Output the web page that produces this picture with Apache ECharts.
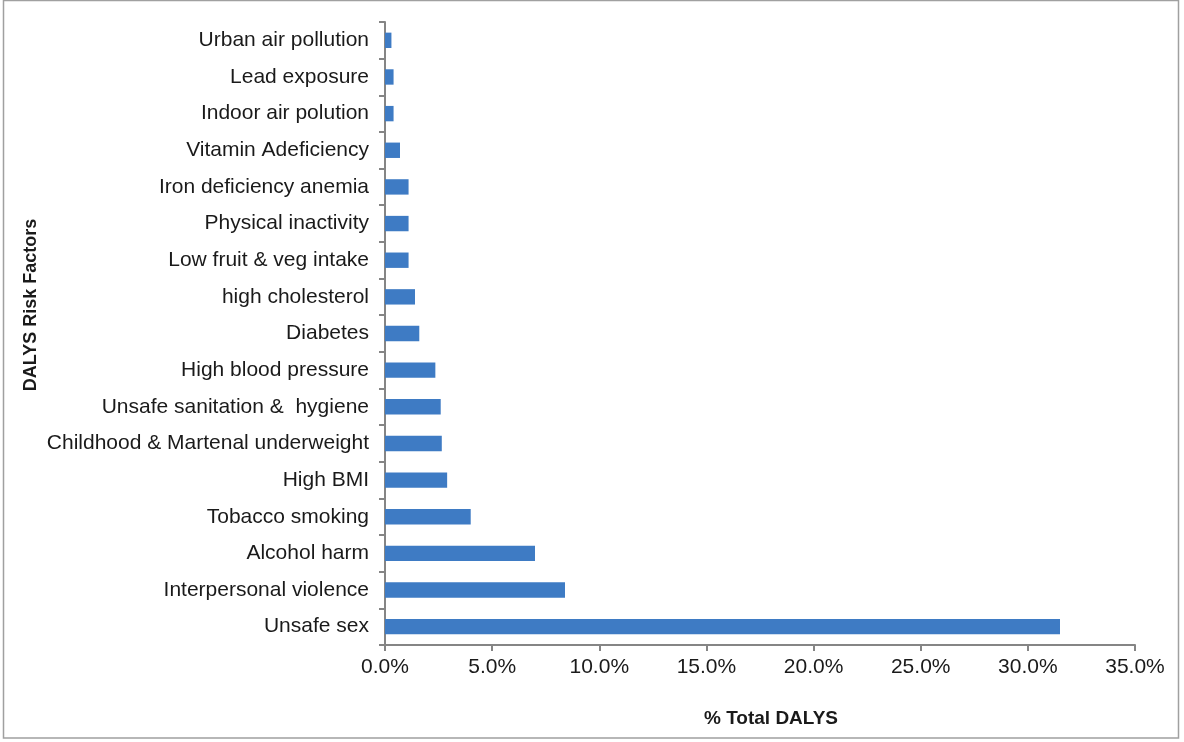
<!DOCTYPE html>
<html><head><meta charset="utf-8">
<script src="https://cdn.jsdelivr.net/npm/echarts@6/dist/echarts.min.js"></script>
<style>html,body{margin:0;padding:0;background:#fff}#c{width:1184px;height:742px}</style>
</head><body><div id="c"></div>
<script>
const categories = ["Unsafe sex","Interpersonal violence","Alcohol harm","Tobacco smoking","High BMI","Childhood & Martenal underweight","Unsafe sanitation &  hygiene","High blood pressure","Diabetes","high cholesterol","Low fruit & veg intake","Physical inactivity","Iron deficiency anemia","Vitamin Adeficiency","Indoor air polution","Lead exposure","Urban air pollution"];
const values = [31.5, 8.4, 7.0, 4.0, 2.9, 2.65, 2.6, 2.35, 1.6, 1.4, 1.1, 1.1, 1.1, 0.7, 0.4, 0.4, 0.3];
const xTicks = [0, 5, 10, 15, 20, 25, 30, 35];

const chart = echarts.init(document.getElementById('c'));
const font = '"Liberation Sans", Arial, sans-serif';
chart.setOption({
  animation: false,
  grid: {left: 385, right: 49, top: 22, bottom: 97, containLabel: false},
  xAxis: {
    type: 'value', min: xTicks[0], max: xTicks[xTicks.length-1], interval: 5,
    axisLine: {show: true, lineStyle: {color: '#858585', width: 2}},
    axisTick: {show: true, length: 6, lineStyle: {color: '#858585', width: 2}},
    splitLine: {show: false},
    axisLabel: {color: '#1a1a1a', fontSize: 21, fontFamily: font, margin: 12,
      formatter: v => v.toFixed(1) + '%'},
    name: '% Total DALYS', nameLocation: 'middle', nameGap: 64,
    nameTextStyle: {fontSize: 19, fontWeight: 'bold', color: '#1a1a1a', fontFamily: font,
      padding: [0, 0, 0, 22]}
  },
  yAxis: {
    type: 'category', data: categories,
    axisLine: {show: true, lineStyle: {color: '#858585', width: 2}},
    axisTick: {show: true, length: 6, lineStyle: {color: '#858585', width: 2}},
    axisLabel: {color: '#1a1a1a', fontSize: 21, fontFamily: font, margin: 16, interval: 0}
  },
  series: [{
    type: 'bar', data: values, barCategoryGap: '58%',
    itemStyle: {color: '#3e7bc4'}
  }],
  graphic: [
    {type: 'rect', shape: {x: 3.5, y: 0.5, width: 1175, height: 737.5},
     style: {fill: 'none', stroke: '#a0a0a0', lineWidth: 1.5}, silent: true},
    {type: 'text', x: 31, y: 305, rotation: Math.PI/2,
     style: {text: 'DALYS Risk Factors', font: 'bold 18px "Liberation Sans", Arial, sans-serif',
       fill: '#1a1a1a', align: 'center', verticalAlign: 'middle'}}
  ]
});
</script></body></html>
